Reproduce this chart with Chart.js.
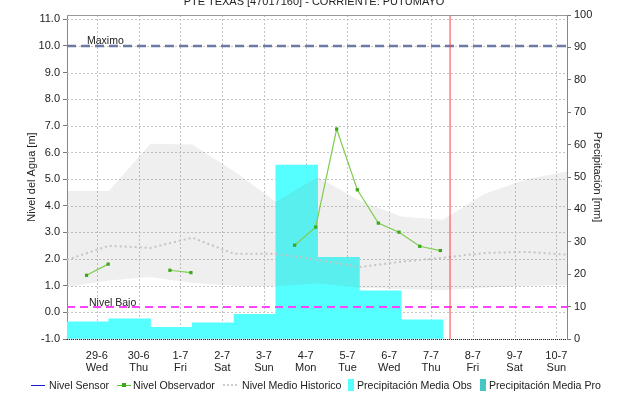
<!DOCTYPE html>
<html>
<head>
<meta charset="utf-8">
<script src="https://cdn.jsdelivr.net/npm/chart.js@4/dist/chart.umd.min.js"></script>
<style>
  body { margin: 0; background: #fff; }
  #wrap { position: relative; width: 628px; height: 403px; overflow: hidden; font-family: "Liberation Sans", Arial, sans-serif; color: #222; }
  #title { position: absolute; top: -5px; left: 0; width: 628px; text-align: center; font-size: 11px; line-height: 13px; }
  #legend { position: absolute; top: 378px; left: 0; width: 628px; height: 14px; font-size: 10.6px; }
  .li { position: absolute; top: 0; line-height: 14px; white-space: nowrap; }
  .sw { position: absolute; }
</style>
</head>
<body>
<div id="wrap">
  <canvas id="c" width="628" height="403"></canvas>
  <div id="title">PTE TEXAS [47017160] - CORRIENTE: PUTUMAYO</div>
  <div id="legend">
    <span class="sw" style="left:31px;top:7px;width:14px;height:1px;background:#1a1ae6"></span>
    <span class="li" style="left:49px">Nivel Sensor</span>
    <span class="sw" style="left:117px;top:7px;width:14px;height:1px;background:#55cc22"></span>
    <span class="sw" style="left:122px;top:5px;width:4px;height:4px;background:#3aa818"></span>
    <span class="li" style="left:133px">Nivel Observador</span>
    <span class="sw" style="left:223px;top:6px;width:14px;height:0;border-top:2px dotted #ccc"></span>
    <span class="li" style="left:242px">Nivel Medio Historico</span>
    <span class="sw" style="left:348px;top:1px;width:6px;height:12px;background:#55ffff"></span>
    <span class="li" style="left:357px">Precipitación Media Obs</span>
    <span class="sw" style="left:480px;top:1px;width:6px;height:12px;background:#44c8c4"></span>
    <span class="li" style="left:489px">Precipitación Media Pro</span>
  </div>
</div>
<script>
/* PTE TEXAS water level + precipitation chart */
const DAYS = ["29-6", "30-6", "1-7", "2-7", "3-7", "4-7", "5-7", "6-7", "7-7", "8-7", "9-7", "10-7"];
const WEEKDAYS = ["Wed", "Thu", "Fri", "Sat", "Sun", "Mon", "Tue", "Wed", "Thu", "Fri", "Sat", "Sun"];
const X_MIN = -0.715, X_MAX = 11.255;   // days from 29-6 00:00

// daily precipitation (mm), bar centres in days
const PRECIP_X = [-0.215, 0.785, 1.785, 2.785, 3.785, 4.785, 5.785, 6.785, 7.785];
const PRECIP_OBS = [5.3, 6.2, 3.6, 5.0, 7.6, 53.7, 25.2, 14.9, 5.9];

// historic level band (m)
const HIST_X = [-0.715, 0.285, 1.285, 2.285, 3.285, 4.285, 5.285, 6.285, 7.285, 8.285, 9.285, 10.285, 11.285];
const HIST_MAX = [4.55, 4.55, 6.33, 6.3, 5.3, 4.15, 5.08, 4.2, 3.6, 3.48, 4.45, 5.0, 5.3];
const HIST_MIN = [0.95, 1.2, 1.33, 1.1, 1.0, 0.98, 1.08, 0.92, 0.88, 0.84, 0.92, 1.0, 1.03];
const HIST_MEAN = [1.97, 2.5, 2.42, 2.8, 2.2, 2.2, 1.97, 1.7, 1.9, 2.05, 2.23, 2.27, 2.16];

// observer readings (m), null = gap
const OBS_X = [-0.247, 0.271, 1.0, 1.749, 2.251, 3.5, 4.735, 5.238, 5.741, 6.235, 6.738, 7.234, 7.73, 8.223];
const OBS_Y = [1.39, 1.81, null, 1.58, 1.49, null, 2.52, 3.2, 6.88, 4.6, 3.35, 3.01, 2.48, 2.32];

const MAX_LEVEL = 10.0, LOW_LEVEL = 0.2, NOW_X = 8.455;
const Y_MIN = -1, Y_MAX = 11.16;

const FONT = "'Liberation Sans', Arial, sans-serif";
Chart.defaults.font.family = FONT;
Chart.defaults.font.size = 11;
Chart.defaults.color = "#333";

const pts = (xs, ys) => xs.map((x, i) => ({ x: x, y: ys[i] }));

// dotted grid drawn under the data
const dottedGrid = {
  id: "dottedGrid",
  beforeDatasetsDraw(chart) {
    const { ctx, chartArea: a, scales } = chart;
    ctx.save();
    ctx.strokeStyle = "#c4c4c4"; ctx.lineWidth = 1; ctx.setLineDash([2, 2]);
    ctx.beginPath();
    scales.x.ticks.forEach((t) => {
      const px = Math.round(scales.x.getPixelForValue(t.value)) + 0.5;
      ctx.moveTo(px, a.top); ctx.lineTo(px, a.bottom);
    });
    scales.y.ticks.forEach((t) => {
      const py = Math.round(scales.y.getPixelForValue(t.value)) + 0.5;
      ctx.moveTo(a.left, py); ctx.lineTo(a.right, py);
    });
    ctx.stroke();
    ctx.restore();
  },
};

const frame = {
  id: "frame",
  afterDraw(chart) {
    const { ctx, chartArea: a, scales } = chart;
    ctx.save();
    ctx.strokeStyle = "#999"; ctx.lineWidth = 1;
    ctx.beginPath(); ctx.moveTo(a.left, a.top + 0.5); ctx.lineTo(a.right, a.top + 0.5); ctx.stroke();
    ctx.strokeStyle = "#222"; ctx.setLineDash([1, 1]);
    ctx.beginPath(); ctx.moveTo(a.left, a.bottom + 0.5); ctx.lineTo(a.right, a.bottom + 0.5); ctx.stroke();
    ctx.setLineDash([]);
    ctx.fillStyle = "#222"; ctx.font = "10.5px " + FONT; ctx.textBaseline = "alphabetic";
    ctx.fillText("Maximo", a.left + 20, scales.y.getPixelForValue(MAX_LEVEL) - 2);
    ctx.fillText("Nivel Bajo", a.left + 22, scales.y.getPixelForValue(LOW_LEVEL) - 1);
    ctx.restore();
  },
};

new Chart(document.getElementById("c"), {
  type: "line",
  data: {
    datasets: [
      { type: "bar", label: "Precipitación Media Obs", data: pts(PRECIP_X, PRECIP_OBS), yAxisID: "yP",
        backgroundColor: "#55ffff", borderWidth: 0, barPercentage: 1, categoryPercentage: 1, order: 10 },
      { label: "hist max", data: pts(HIST_X, HIST_MAX), yAxisID: "y", borderWidth: 0, pointRadius: 0,
        fill: "+1", backgroundColor: "rgba(120,120,120,0.12)", order: 6 },
      { label: "hist min", data: pts(HIST_X, HIST_MIN), yAxisID: "y", borderWidth: 0, pointRadius: 0, fill: false, order: 5 },
      { label: "Nivel Medio Historico", data: pts(HIST_X, HIST_MEAN), yAxisID: "y", borderColor: "#c4c4c4",
        borderWidth: 2, borderDash: [2, 3], pointRadius: 0, fill: false, order: 4 },
      { label: "Maximo", data: pts([X_MIN, X_MAX], [MAX_LEVEL, MAX_LEVEL]), yAxisID: "y", borderColor: "#6e7aa6",
        borderWidth: 2.5, borderDash: [9, 5], pointRadius: 0, fill: false, order: 3 },
      { label: "Nivel Bajo", data: pts([X_MIN, X_MAX], [LOW_LEVEL, LOW_LEVEL]), yAxisID: "y", borderColor: "#ff44ff",
        borderWidth: 2, borderDash: [8, 5], pointRadius: 0, fill: false, order: 3 },
      { label: "Ahora", data: pts([NOW_X, NOW_X], [Y_MIN, Y_MAX]), yAxisID: "y", borderColor: "#ff3b3b",
        borderWidth: 1, pointRadius: 0, fill: false, order: 2 },
      { label: "Nivel Observador", data: pts(OBS_X, OBS_Y), yAxisID: "y", borderColor: "#7fcc50", borderWidth: 1.2,
        pointRadius: 2.3, pointStyle: "rect", pointBackgroundColor: "#3aa818", pointBorderWidth: 0,
        spanGaps: false, fill: false, order: 1 },
    ],
  },
  options: {
    responsive: false, animation: false,
    layout: { padding: { top: 15, left: 25, right: 24, bottom: 0 } },
    plugins: { legend: { display: false }, tooltip: { enabled: false } },
    scales: {
      x: {
        type: "linear", min: X_MIN, max: X_MAX, offset: false,
        afterFit: (s) => { s.height = 64; },
        ticks: { stepSize: 1, includeBounds: false, autoSkip: false, maxRotation: 0, padding: 3, color: "#222",
          font: { size: 11, lineHeight: 1.1 },
          callback: (v) => (Number.isInteger(v) && DAYS[v] ? [DAYS[v], WEEKDAYS[v]] : "") },
        grid: { display: false },
        border: { display: false },
      },
      y: {
        position: "left", min: Y_MIN, max: Y_MAX,
        afterFit: (s) => { s.width = 42; },
        ticks: { stepSize: 1, includeBounds: false, padding: 3, color: "#222", callback: (v) => v.toFixed(1) },
        grid: { drawOnChartArea: false, tickColor: "#777", tickLength: 4 },
        border: { color: "#888" },
        title: { display: true, text: "Nivel del Agua [m]", color: "#222", font: { size: 11 }, padding: 0 },
      },
      yP: {
        position: "right", min: 0, max: 100,
        afterFit: (s) => { s.width = 37; },
        ticks: { stepSize: 10, padding: 3, color: "#222" },
        grid: { drawOnChartArea: false, tickColor: "#777", tickLength: 4 },
        border: { color: "#888" },
        title: { display: true, text: "Precipitación [mm]", color: "#222", font: { size: 11 }, padding: 0 },
      },
    },
  },
  plugins: [dottedGrid, frame],
});
</script>
</body>
</html>
